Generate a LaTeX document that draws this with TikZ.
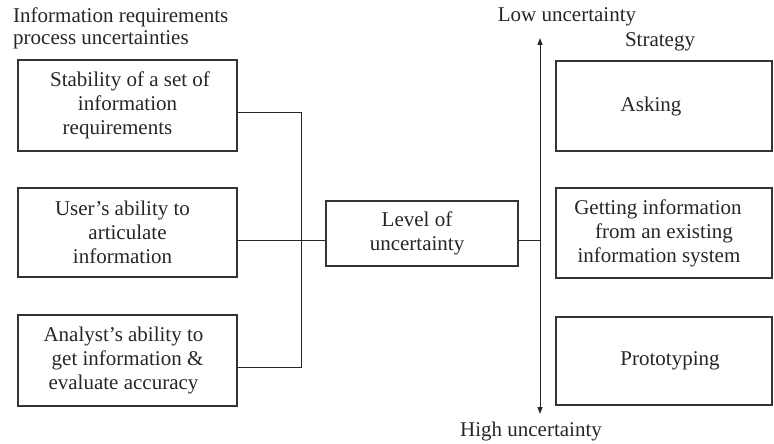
\documentclass[tikz,border=0pt]{standalone}
\usepackage{fontspec}
\setmainfont{Liberation Serif}
\usetikzlibrary{arrows.meta}
\newcommand{\sh}[1]{\hspace*{#1pt}}
\begin{document}
\begin{tikzpicture}[x=1pt,y=-1pt,
  box/.style={draw=black!80, line width=1.3pt, align=center, inner sep=0pt,
    font=\fontsize{21}{24}\selectfont, text=black!85},
  lbl/.style={font=\fontsize{21}{22}\selectfont, text=black!85, inner sep=0pt},
  conn/.style={draw=black!85, line width=1pt}]
\useasboundingbox (0,0) rectangle (774,444);
% left boxes
\node[box, minimum width=219pt, minimum height=91pt] (b1) at (127.5,105.5) {\sh{5}Stability of a set of\\information\sh{21}\\requirements\sh{20}};
\node[box, minimum width=219pt, minimum height=89pt] (b2) at (127.5,232.5) {User's ability to\sh{10}\\articulate\sh{10}\\information\sh{10}};
\node[box, minimum width=219pt, minimum height=91pt] (b3) at (127.5,360.5) {Analyst's ability to\sh{8}\\get information \&\sh{8}\\evaluate accuracy\sh{8}};
% centre
\node[box, minimum width=192pt, minimum height=65pt] (lv) at (422,233.5) {Level of\sh{10}\\uncertainty\sh{10}};
% right boxes
\node[box, minimum width=216pt, minimum height=90pt] (s1) at (664,106) {Asking\sh{26}};
\node[box, minimum width=216pt, minimum height=90pt] (s2) at (664,233) {Getting information\sh{12}\\from an existing\sh{12}\\information system\sh{10}};
\node[box, minimum width=216pt, minimum height=88pt] (s3) at (664,361) {\sh{12}Prototyping};
% titles
\node[lbl, anchor=west, align=left] (t1) at (13,28) {Information requirements\\process uncertainties};
\node[lbl] (lo) at (567,17) {Low uncertainty};
\node[lbl] (st) at (660,42) {Strategy};
\node[lbl] (hi) at (531,431) {High uncertainty};
% axis
\coordinate (atop) at (540,38);
\coordinate (abot) at (540,414);
\draw[conn, {Triangle[length=7pt,width=5pt]}-{Triangle[length=7pt,width=5pt]}] (atop) -- (abot);
% connectors
\coordinate (j1) at (301,112);
\coordinate (j2) at (301,240);
\coordinate (j3) at (301,367);
\coordinate (ja) at (540,240);
\draw[conn] (j1 -| b1.east) -- (j1) -- (j3) -- (j3 -| b3.east);
\draw[conn] (j2 -| b2.east) -- (j2 -| lv.west);
\draw[conn] (j2 -| lv.east) -- (ja);
\end{tikzpicture}
\end{document}
